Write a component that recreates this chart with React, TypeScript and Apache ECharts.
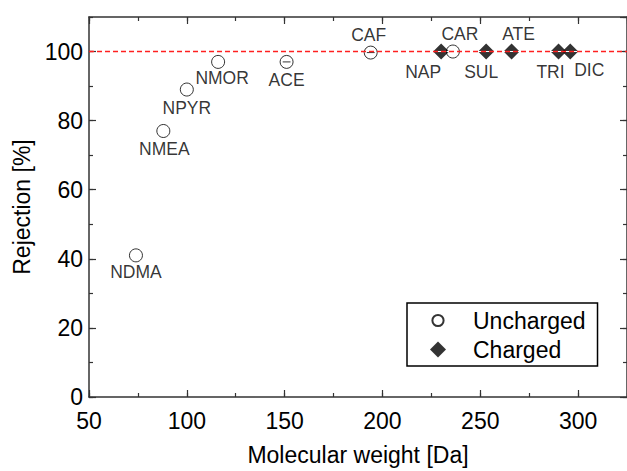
import React, { useEffect, useRef } from "react";
import * as echarts from "echarts";

const unchargedNames = ["NDMA", "NMEA", "NPYR", "NMOR", "ACE", "CAF", "CAR"];
const unchargedMW = [74, 88, 100, 116, 151, 194, 236];
const unchargedRej = [41, 77, 89, 97, 97, 99.7, 100];

const chargedNames = ["NAP", "SUL", "ATE", "TRI", "DIC"];
const chargedMW = [230, 253, 266, 290, 296];
const chargedRej = [100, 100, 100, 100, 100];

const xRange = [50, 325];
const yRange = [0, 110];
const referenceLine = 100;

// label placement (style only)
const labelOffsets: Record<string, [number, number]> = {
  NDMA: [0, 17],
  NMEA: [1, 18],
  NPYR: [0, 18],
  NMOR: [4, 16],
  ACE: [0, 18],
  CAF: [-2, -18],
  CAR: [7, -18],
  NAP: [-18, 20],
  SUL: [-5, 20],
  ATE: [7, -18],
  TRI: [-8, 20],
  DIC: [19, 18],
};
const barredNames = ["ACE", "CAF"];

const FONT = '"Liberation Sans", Arial, Helvetica, sans-serif';
const AX = "#333";
const TXT = "#000";
const BIG = 23;

const circleBar =
  "path://M0,10a10,10 0 1,0 20,0a10,10 0 1,0 -20,0Z M4,10L16,10";
const splitDiamond =
  "path://M0.8,9.3L10,0L19.2,9.3Z M0.8,10.7L10,20L19.2,10.7Z";
const legendCircle =
  "path://M0,0M20,20M3,10a7,7 0 1,0 14,0a7,7 0 1,0 -14,0Z";

function majorAxis(pos: string, min: number, max: number, interval: number, withLabels: boolean, extra: any = {}) {
  return {
    type: "value",
    position: pos,
    min,
    max,
    interval,
    axisLine: { show: true, onZero: false, lineStyle: { color: AX, width: 1.5 } },
    axisTick: { show: true, inside: true, length: 7, lineStyle: { color: AX, width: 1.2 } },
    axisLabel: withLabels
      ? { show: true, fontSize: BIG, color: TXT, fontFamily: FONT, showMaxLabel: false }
      : { show: false },
    splitLine: { show: false },
    ...extra,
  };
}
function minorAxis(pos: string, min: number, max: number, interval: number) {
  return {
    type: "value",
    position: pos,
    min,
    max,
    interval,
    axisLine: { show: false, onZero: false },
    axisTick: { show: true, inside: true, length: 4, lineStyle: { color: AX, width: 1.2 } },
    axisLabel: { show: false },
    splitLine: { show: false },
  };
}

export default function App() {
  const ref = useRef<HTMLDivElement>(null);
  useEffect(() => {
    if (!ref.current) return;
    const chart = echarts.init(ref.current, null, { renderer: "svg" });
    const labelFor = (n: string) => ({
      show: true,
      position: "inside",
      offset: labelOffsets[n],
      formatter: n,
      fontSize: 17.5,
      color: TXT,
      fontFamily: FONT,
    });
    const unchargedData = unchargedNames.map((n, i) => ({
      name: n,
      value: [unchargedMW[i], unchargedRej[i]],
      symbol: barredNames.includes(n) ? circleBar : "circle",
      label: labelFor(n),
    }));
    const chargedData = chargedNames.map((n, i) => ({
      name: n,
      value: [chargedMW[i], chargedRej[i]],
      label: labelFor(n),
    }));
    chart.setOption({
      animation: false,
      backgroundColor: "#fff",
      grid: { left: 89, top: 17, right: -3, bottom: 74, containLabel: false },
      xAxis: [
        majorAxis("bottom", xRange[0], xRange[1], 50, true, {
          name: "Molecular weight [Da]",
          nameLocation: "middle",
          nameGap: 46,
          nameTextStyle: { fontSize: BIG, color: TXT, fontFamily: FONT },
          axisLabel: { show: true, fontSize: BIG, color: TXT, fontFamily: FONT, showMaxLabel: false, margin: 12 },
        }),
        minorAxis("bottom", xRange[0], xRange[1], 25),
        majorAxis("top", xRange[0], xRange[1], 50, false),
        minorAxis("top", xRange[0], xRange[1], 25),
      ],
      yAxis: [
        majorAxis("left", yRange[0], yRange[1], 20, true, {
          name: "Rejection [%]",
          nameLocation: "middle",
          nameGap: 55,
          nameTextStyle: { fontSize: BIG, color: TXT, fontFamily: FONT },
          axisLabel: { show: true, fontSize: BIG, color: TXT, fontFamily: FONT, showMaxLabel: false, margin: 6 },
        }),
        minorAxis("left", yRange[0], yRange[1], 10),
        majorAxis("right", yRange[0], yRange[1], 20, false),
        minorAxis("right", yRange[0], yRange[1], 10),
      ],
      legend: {
        left: 407,
        top: 303,
        orient: "vertical",
        padding: [6, 12, 5, 22],
        itemGap: 6,
        itemWidth: 16,
        itemHeight: 16,
        borderColor: "#000",
        borderWidth: 1.5,
        borderRadius: 0,
        backgroundColor: "#fff",
        textStyle: { fontSize: BIG, color: TXT, fontFamily: FONT, padding: [0, 0, 0, 22] },
        data: [
          { name: "Uncharged", icon: legendCircle },
          { name: "Charged", icon: "diamond" },
        ],
      },
      series: [
        {
          name: "Reference",
          type: "line",
          xAxisIndex: 0,
          yAxisIndex: 0,
          data: [
            [xRange[0], referenceLine],
            [xRange[1], referenceLine],
          ],
          symbol: "none",
          silent: true,
          lineStyle: { color: "#ff2020", type: [5, 3], width: 1.5 },
          z: 5,
        },
        {
          name: "Uncharged",
          type: "scatter",
          xAxisIndex: 0,
          yAxisIndex: 0,
          symbol: "circle",
          symbolSize: 13,
          itemStyle: { color: "#fff", borderColor: "#000", borderWidth: 1 },
          data: unchargedData,
          z: 3,
        },
        {
          name: "Charged",
          type: "scatter",
          xAxisIndex: 0,
          yAxisIndex: 0,
          symbol: splitDiamond,
          symbolSize: [15, 16],
          itemStyle: { color: "#000" },
          data: chargedData,
          z: 4,
        },
      ],
    });
    return () => chart.dispose();
  }, []);
  return (
    <div
      ref={ref}
      style={{ position: "fixed", left: 0, top: 0, width: 627, height: 471, background: "#fff" }}
    />
  );
}
